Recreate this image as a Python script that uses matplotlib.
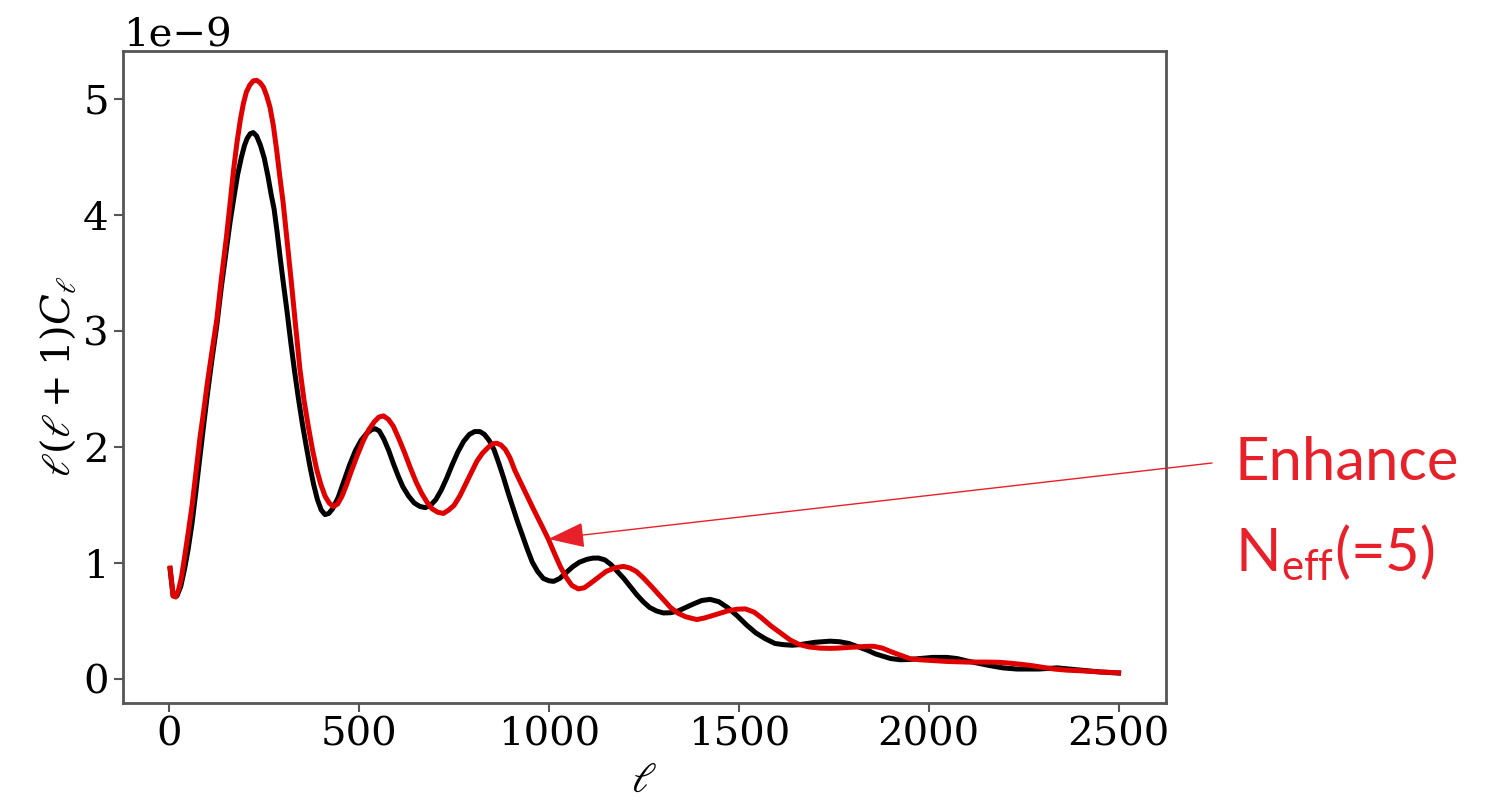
import numpy as np
import matplotlib
matplotlib.use('Agg')
import matplotlib.pyplot as plt

plt.rcParams['font.family'] = 'serif'
plt.rcParams['font.serif'] = ['DejaVu Serif']
plt.rcParams['mathtext.fontset'] = 'dejavuserif'

# y in units of 1e-9
# black: standard model
ell_std = [2, 10, 20, 30, 40, 50, 60, 70, 80, 90, 100, 112, 125, 137, 150, 160, 170,
           180, 190, 198, 205, 213, 221, 230, 240, 250, 260, 268, 276, 284, 292, 300,
           310, 320, 330, 340, 350, 360, 370, 380, 390, 400, 410, 420, 430, 445, 460,
           475, 490, 505, 520, 532, 542, 553, 565, 578, 590, 603, 615, 630, 645, 660,
           674, 688, 702, 716, 730, 745, 760, 775, 790, 804, 818, 830, 842, 855, 868,
           880, 893, 905, 917, 930, 943, 956, 970, 985, 1000, 1012, 1028, 1045, 1062,
           1080, 1100, 1115, 1130, 1147, 1163, 1180, 1197, 1214, 1231, 1248, 1265,
           1283, 1301, 1320, 1340, 1360, 1380, 1402, 1424, 1447, 1470, 1495, 1520,
           1545, 1570, 1595, 1617, 1640, 1660, 1700, 1740, 1765, 1790, 1815, 1840,
           1860, 1880, 1900, 1925, 1950, 1975, 2010, 2048, 2075, 2100, 2130, 2160,
           2195, 2232, 2290, 2338, 2370, 2400, 2450, 2500]
cl_std = [0.95, 0.72, 0.72, 0.80, 0.95, 1.13, 1.35, 1.62, 1.90, 2.18, 2.45, 2.75, 3.05,
          3.38, 3.70, 3.94, 4.15, 4.35, 4.50, 4.60, 4.66, 4.70, 4.71, 4.68, 4.60, 4.49,
          4.33, 4.18, 4.05, 3.85, 3.63, 3.42, 3.17, 2.90, 2.65, 2.42, 2.21, 2.02, 1.84,
          1.68, 1.55, 1.46, 1.42, 1.43, 1.47, 1.57, 1.71, 1.85, 1.97, 2.06, 2.12, 2.15,
          2.16, 2.14, 2.07, 1.97, 1.86, 1.75, 1.66, 1.58, 1.52, 1.49, 1.48, 1.50, 1.55,
          1.63, 1.73, 1.85, 1.96, 2.05, 2.11, 2.135, 2.135, 2.11, 2.06, 1.98, 1.86,
          1.74, 1.60, 1.48, 1.36, 1.24, 1.12, 1.01, 0.93, 0.87, 0.85, 0.845, 0.87, 0.92,
          0.97, 1.01, 1.035, 1.045, 1.046, 1.03, 0.99, 0.93, 0.87, 0.80, 0.73, 0.67,
          0.62, 0.59, 0.573, 0.575, 0.59, 0.62, 0.65, 0.68, 0.69, 0.67, 0.62, 0.55,
          0.47, 0.40, 0.35, 0.31, 0.30, 0.295, 0.30, 0.32, 0.33, 0.325, 0.31, 0.28,
          0.25, 0.22, 0.20, 0.18, 0.17, 0.172, 0.18, 0.19, 0.19, 0.18, 0.16, 0.14, 0.12,
          0.10, 0.09, 0.09, 0.10, 0.09, 0.08, 0.065, 0.055]

# red: enhanced N_eff (=5)
ell_neff = [2, 10, 17, 25, 32, 40, 50, 60, 70, 81, 90, 100, 112, 125, 137, 150, 160,
            169, 178, 187, 195, 203, 212, 221, 230, 239, 248, 256, 265, 274, 283, 291,
            300, 311, 322, 333, 344, 355, 366, 377, 388, 399, 410, 421, 432, 443, 455,
            467, 480, 495, 510, 525, 540, 552, 564, 577, 590, 605, 620, 635, 650, 665,
            680, 692, 707, 722, 736, 750, 765, 780, 795, 810, 825, 840, 852, 862, 873,
            885, 897, 910, 935, 960, 980, 998, 1015, 1030, 1045, 1060, 1077, 1093, 1110,
            1130, 1150, 1172, 1196, 1213, 1230, 1250, 1270, 1295, 1320, 1340, 1360,
            1389, 1410, 1430, 1470, 1495, 1517, 1540, 1560, 1585, 1610, 1635, 1660,
            1685, 1714, 1740, 1760, 1785, 1810, 1835, 1855, 1878, 1900, 1925, 1950,
            1975, 2000, 2050, 2100, 2150, 2185, 2215, 2245, 2270, 2300, 2330, 2365,
            2400, 2450, 2500]
cl_neff = [0.96, 0.72, 0.71, 0.78, 0.88, 1.05, 1.27, 1.50, 1.78, 2.09, 2.30, 2.55, 2.82,
           3.10, 3.45, 3.80, 4.10, 4.385, 4.62, 4.82, 4.96, 5.06, 5.12, 5.155, 5.16,
           5.14, 5.10, 5.03, 4.93, 4.77, 4.55, 4.33, 4.10, 3.75, 3.40, 3.03, 2.67, 2.40,
           2.18, 1.98, 1.81, 1.68, 1.58, 1.52, 1.49, 1.51, 1.58, 1.68, 1.80, 1.93, 2.05,
           2.15, 2.22, 2.26, 2.27, 2.24, 2.18, 2.07, 1.95, 1.82, 1.70, 1.60, 1.52, 1.47,
           1.44, 1.43, 1.46, 1.50, 1.58, 1.68, 1.78, 1.88, 1.95, 2.00, 2.03, 2.035,
           2.02, 1.98, 1.91, 1.80, 1.63, 1.46, 1.33, 1.21, 1.08, 0.97, 0.88, 0.81, 0.78,
           0.79, 0.83, 0.88, 0.93, 0.96, 0.974, 0.96, 0.93, 0.87, 0.80, 0.71, 0.62, 0.57,
           0.54, 0.516, 0.53, 0.55, 0.59, 0.605, 0.608, 0.58, 0.53, 0.46, 0.40, 0.34,
           0.30, 0.28, 0.27, 0.268, 0.27, 0.275, 0.28, 0.285, 0.286, 0.27, 0.24, 0.21,
           0.18, 0.17, 0.165, 0.155, 0.15, 0.15, 0.148, 0.14, 0.13, 0.12, 0.105, 0.09,
           0.08, 0.075, 0.065, 0.058]

fig = plt.figure(figsize=(14.85, 8.11), dpi=100)
ax = fig.add_axes([0.0826, 0.1335, 0.7026, 0.804])

ax.plot(ell_std, np.array(cl_std) * 1e-9, color='black', lw=3.6, solid_joinstyle='round')
ax.plot(ell_neff, np.array(cl_neff) * 1e-9, color='#e00000', lw=3.6, solid_joinstyle='round')

ax.set_xlabel(r'$\ell$', fontsize=30)
ax.set_ylabel(r'$\ell(\ell+1)C_\ell$', fontsize=29)
ax.set_xticks([0, 500, 1000, 1500, 2000, 2500])
ax.tick_params(labelsize=29, length=6.5, width=1.5, color='#555555')
ax.yaxis.get_offset_text().set_fontsize(29)
for s in ax.spines.values():
    s.set_color('#555555')
    s.set_linewidth(2)

red = '#e8202a'
ax.annotate('', xy=(998, 1.21e-9), xytext=(1212, 811 - 463), textcoords='figure pixels',
            arrowprops=dict(arrowstyle='-|>,head_length=1.15,head_width=0.4',
                            mutation_scale=20, lw=1, color=red, shrinkA=0, shrinkB=0))
fig.text(1235 / 1485, 331 / 811, 'Enhance', color=red, fontsize=43,
         family=['Lato', 'DejaVu Sans'], va='baseline')
fig.text(1235 / 1485, 239 / 811, r'N$_\mathregular{eff}$(=5)', color=red, fontsize=43,
         family=['Lato', 'DejaVu Sans'], va='baseline')

fig.savefig('out.png', dpi=100)
